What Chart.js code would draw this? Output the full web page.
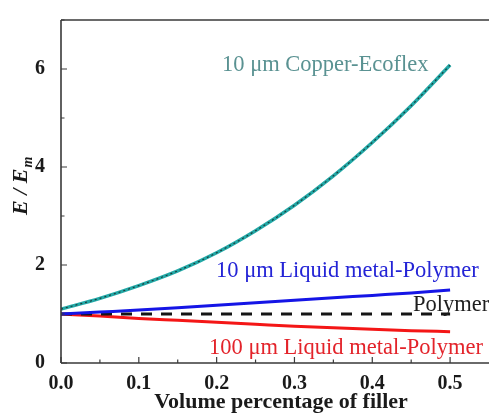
<!DOCTYPE html>
<html>
<head>
<meta charset="utf-8">
<script src="https://cdn.jsdelivr.net/npm/chart.js@4.4.1/dist/chart.umd.min.js"></script>
<style>
  html, body { margin: 0; padding: 0; background: #fff; }
  #wrap { width: 489px; height: 418px; }
</style>
</head>
<body>
<div id="wrap"><canvas id="modulus"></canvas></div>
<script>
// 体积分数 vs 归一化模量 E/Em
const volFrac = [0, 0.05, 0.10, 0.15, 0.20, 0.25, 0.30, 0.35, 0.40, 0.45, 0.50];
const copperEcoflex = [1.10, 1.32, 1.58, 1.88, 2.25, 2.70, 3.22, 3.82, 4.50, 5.25, 6.08];
const lm10Polymer   = [1.00, 1.04, 1.08, 1.13, 1.18, 1.23, 1.28, 1.33, 1.38, 1.43, 1.49];
const lm100Polymer  = [1.00, 0.96, 0.91, 0.87, 0.83, 0.79, 0.75, 0.72, 0.69, 0.66, 0.64];
const polymerOnly   = [1.00, 1.00, 1.00, 1.00, 1.00, 1.00, 1.00, 1.00, 1.00, 1.00, 1.00];

const xTickLabels = ["0.0", "0.1", "0.2", "0.3", "0.4", "0.5"];
const yTickLabels = ["0", "2", "4", "6"];

const curveLabels = [
  { text: "10 \u03bcm Copper-Ecoflex", color: "#5a9292", x: 222, y: 71 },
  { text: "10 \u03bcm Liquid metal-Polymer", color: "#2424d6", x: 216, y: 277 },
  { text: "Polymer", color: "#1e1e1e", x: 413, y: 311 },
  { text: "100 \u03bcm Liquid metal-Polymer", color: "#e3232a", x: 209, y: 354 }
];

const pts = ys => volFrac.map((x, i) => ({ x, y: ys[i] }));
const SERIF = "'Liberation Serif', 'DejaVu Serif', serif";

// 坐标框 + 朝内刻度 + 标题 + 曲线文字
const frame = {
  id: "frame",
  afterDatasetsDraw(chart) {
    const { ctx, chartArea: a, scales: { x, y } } = chart;
    ctx.save();
    ctx.strokeStyle = "#3a3a3a";
    ctx.lineWidth = 1.6;
    ctx.beginPath();
    ctx.moveTo(a.left, a.top); ctx.lineTo(a.right, a.top);
    ctx.moveTo(a.left, a.top); ctx.lineTo(a.left, a.bottom);
    ctx.moveTo(a.left, a.bottom); ctx.lineTo(a.right, a.bottom);
    ctx.stroke();

    ctx.lineWidth = 1.2;
    ctx.beginPath();
    x.ticks.forEach(t => {
      const px = x.getPixelForValue(t.value);
      const major = t.label !== "";
      ctx.moveTo(px, a.bottom); ctx.lineTo(px, a.bottom - (major ? 6 : 3.5));
    });
    y.ticks.forEach(t => {
      const py = y.getPixelForValue(t.value);
      const major = t.label !== "";
      ctx.moveTo(a.left, py); ctx.lineTo(a.left + (major ? 6 : 3.5), py);
    });
    ctx.stroke();

    ctx.font = "22.5px " + SERIF;
    ctx.textBaseline = "alphabetic";
    ctx.textAlign = "left";
    curveLabels.forEach(l => {
      ctx.fillStyle = l.color;
      ctx.fillText(l.text, l.x, l.y);
    });

    // x 轴标题
    ctx.fillStyle = "#1a1a1a";
    ctx.font = "bold 22px " + SERIF;
    ctx.textAlign = "center";
    ctx.fillText("Volume percentage of filler", 281, 408);

    // y 轴标题 E / Em
    ctx.translate(27, 215);
    ctx.rotate(-Math.PI / 2);
    ctx.textAlign = "left";
    ctx.font = "italic bold 22px " + SERIF;
    const main = "E / E";
    ctx.fillText(main, 0, 0);
    const w = ctx.measureText(main).width;
    ctx.font = "italic bold 14px " + SERIF;
    ctx.fillText("m", w + 1, 5);
    ctx.restore();
  }
};

new Chart(document.getElementById("modulus"), {
  type: "line",
  data: {
    datasets: [
      { label: "Copper-Ecoflex", data: pts(copperEcoflex), borderColor: "#22a9a7", borderWidth: 3.5, order: 2 },
      { label: "Copper-Ecoflex core", data: pts(copperEcoflex), borderColor: "#1d3c3c", borderWidth: 1.2, borderDash: [2, 3], order: 1 },
      { label: "10 um LM-Polymer", data: pts(lm10Polymer), borderColor: "#1515e6", borderWidth: 3, order: 3 },
      { label: "Polymer", data: pts(polymerOnly), borderColor: "#151515", borderWidth: 3, borderDash: [11, 9], order: 3 },
      { label: "100 um LM-Polymer", data: pts(lm100Polymer), borderColor: "#f41616", borderWidth: 3, order: 3 }
    ]
  },
  options: {
    responsive: true,
    maintainAspectRatio: false,
    animation: false,
    layout: { padding: { top: 16, right: 0, left: 0, bottom: 0 } },
    elements: { point: { radius: 0 }, line: { tension: 0.35, cubicInterpolationMode: "monotone", fill: false } },
    plugins: { legend: { display: false }, tooltip: { enabled: false } },
    scales: {
      x: {
        type: "linear", min: 0, max: 0.55,
        grid: { display: false }, border: { display: false },
        afterFit: s => { s.height = 55; },
        afterBuildTicks: s => { s.ticks = volFrac.map(v => ({ value: v })); },
        ticks: {
          autoSkip: false, maxRotation: 0, padding: 1, color: "#1a1a1a",
          font: { family: SERIF, size: 20, weight: "bold" },
          callback: v => xTickLabels.find(l => Math.abs(Number(l) - v) < 1e-6) || ""
        }
      },
      y: {
        min: 0, max: 7,
        grid: { display: false }, border: { display: false },
        afterFit: s => { s.width = 61; },
        ticks: {
          stepSize: 1, autoSkip: false, padding: 8, color: "#1a1a1a",
          font: { family: SERIF, size: 20, weight: "bold" },
          callback: v => yTickLabels.includes(String(v)) ? String(v) : ""
        }
      }
    }
  },
  plugins: [frame]
});
</script>
</body>
</html>
